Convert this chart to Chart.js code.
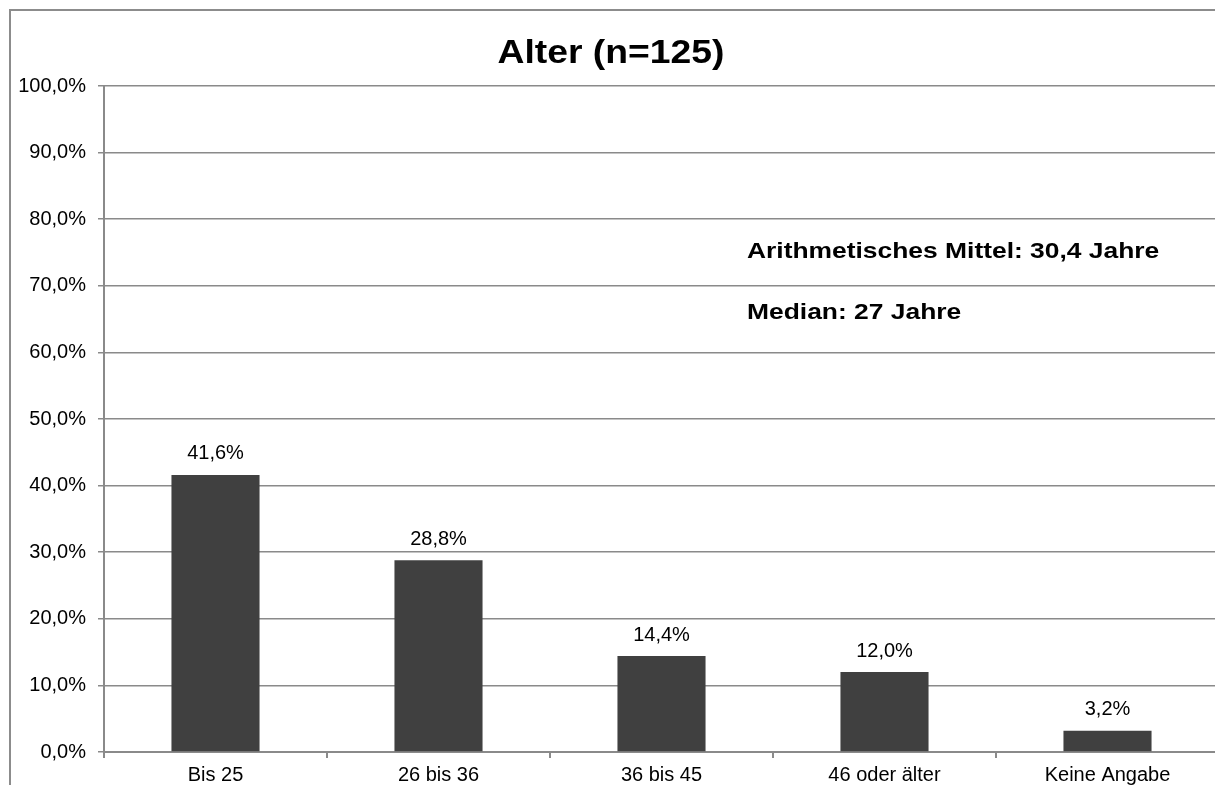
<!DOCTYPE html>
<html>
<head>
<meta charset="utf-8">
<script src="https://cdn.jsdelivr.net/npm/chart.js@4"></script>
<style>
  html, body { margin: 0; padding: 0; background: #fff; overflow: hidden; }
  #wrap { position: absolute; left: 0; top: 0; }
  canvas { display: block; }
</style>
</head>
<body>
<div id="wrap"><canvas id="chart" width="1240" height="785"></canvas></div>
<script>
// Age groups of respondents
const categories = ['Bis 25', '26 bis 36', '36 bis 45', '46 oder älter', 'Keine Angabe'];
const shares = [41.6, 28.8, 14.4, 12.0, 3.2];
const yTicks = [0, 10, 20, 30, 40, 50, 60, 70, 80, 90, 100];
const chartTitle = 'Alter (n=125)';
const notes = ['Arithmetisches Mittel: 30,4 Jahre', 'Median: 27 Jahre'];

const FONT = '"Liberation Sans", Arial, sans-serif';
const GRID = '#8a8a8a';

const fmt = v => v.toFixed(1).replace('.', ',') + '%';

// draw text horizontally widened by factor sx, anchored at (x, y)
function wideText(ctx, text, x, y, sx, align) {
  ctx.save();
  ctx.translate(x, y);
  ctx.scale(sx, 1);
  ctx.textAlign = align;
  ctx.fillText(text, 0, 0);
  ctx.restore();
}

// frame, title, statistics notes and value labels
const decorations = {
  id: 'decorations',
  beforeDraw(chart) {
    const ctx = chart.ctx;
    ctx.save();
    ctx.strokeStyle = '#8c8c8c';
    ctx.lineWidth = 2;
    ctx.strokeRect(10, 10, chart.width + 20, chart.height + 20);
    ctx.restore();
  },
  afterDraw(chart) {
    const ctx = chart.ctx;
    ctx.save();
    ctx.fillStyle = '#000';
    ctx.textBaseline = 'middle';
    ctx.font = 'bold 33px ' + FONT;
    wideText(ctx, chartTitle, 611, 54, 1.13, 'center');

    ctx.font = 'bold 22px ' + FONT;
    wideText(ctx, notes[0], 747, 252, 1.2, 'left');
    wideText(ctx, notes[1], 747, 313, 1.2, 'left');

    ctx.textAlign = 'center';
    ctx.textBaseline = 'bottom';
    ctx.font = '20px ' + FONT;
    const meta = chart.getDatasetMeta(0);
    meta.data.forEach((bar, i) => {
      ctx.fillText(fmt(shares[i]), bar.x, bar.y - 11);
    });
    ctx.restore();
  }
};

new Chart(document.getElementById('chart'), {
  type: 'bar',
  data: {
    labels: categories,
    datasets: [{
      data: shares,
      backgroundColor: '#404040',
      barPercentage: 0.395,
      categoryPercentage: 1.0
    }]
  },
  options: {
    responsive: false,
    animation: false,
    devicePixelRatio: 1,
    layout: { padding: { left: 0, top: 86, right: 21, bottom: 0 } },
    plugins: {
      legend: { display: false },
      title: { display: false },
      tooltip: { enabled: false }
    },
    scales: {
      y: {
        min: 0,
        max: 100,
        afterBuildTicks(scale) { scale.ticks = yTicks.map(v => ({ value: v })); },
        afterFit(scale) { scale.width = 104; },
        ticks: {
          callback: v => fmt(v),
          color: '#000',
          font: { family: FONT, size: 20 },
          padding: 12
        },
        grid: {
          color: GRID,
          lineWidth: 1.5,
          tickLength: 6,
          tickColor: GRID
        },
        border: { display: true, color: GRID, width: 2 }
      },
      x: {
        afterFit(scale) { scale.height = 33; },
        ticks: {
          color: '#000',
          font: { family: FONT, size: 20 },
          padding: 5,
          maxRotation: 0
        },
        grid: {
          drawOnChartArea: false,
          drawTicks: true,
          tickLength: 6,
          color: GRID,
          lineWidth: 2
        },
        border: { display: true, color: GRID, width: 2 }
      }
    }
  },
  plugins: [decorations]
});
</script>
</body>
</html>
